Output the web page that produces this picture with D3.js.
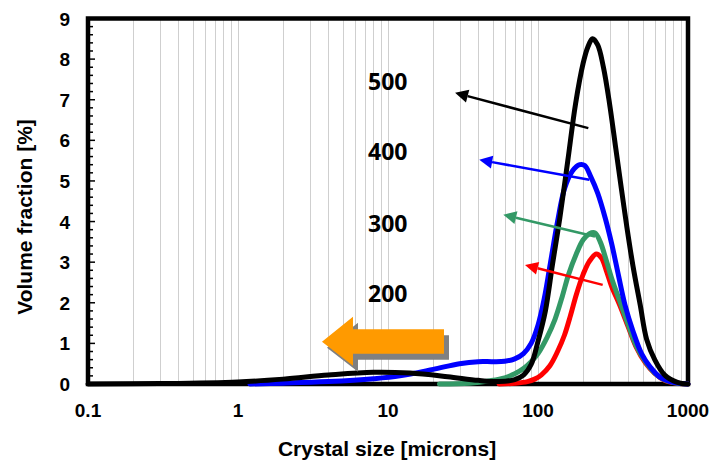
<!DOCTYPE html>
<html>
<head>
<meta charset="utf-8">
<script src="https://cdn.jsdelivr.net/npm/d3@7"></script>
<style>
  html, body { margin: 0; padding: 0; background: #fff; }
  svg { display: block; }
</style>
</head>
<body>
<svg id="chart" width="721" height="470"></svg>
<script>
// ---------------- data ----------------
const xTickValues = [0.1, 1, 10, 100, 1000];
const xTickLabels = ["0.1", "1", "10", "100", "1000"];
const yTickValues = [0, 1, 2, 3, 4, 5, 6, 7, 8, 9];

const seriesNames = ["200", "300", "400", "500"];
const seriesColors = ["#ff0000", "#339966", "#0000ff", "#000000"];

const series200 = [[55,0],[70,0.02],[85,0.06],[95,0.12],[105,0.22],[120,0.45],[135,0.8],[150,1.2],[165,1.7],[180,2.2],[200,2.7],[220,3.02],[245,3.2],[265,3.1],[285,2.8],[310,2.4],[350,1.95],[400,1.4],[450,0.92],[520,0.52],[600,0.26],[700,0.09],[850,0.02],[1000,0]];
const series300 = [[22,0],[35,0.02],[48,0.08],[60,0.15],[70,0.25],[80,0.38],[90,0.55],[100,0.75],[115,1.15],[130,1.6],[145,2.15],[160,2.7],[180,3.2],[200,3.55],[220,3.7],[240,3.72],[260,3.5],[285,3.05],[310,2.6],[350,2.05],[400,1.45],[450,0.95],[520,0.55],[600,0.27],[700,0.1],[850,0.02],[1000,0]];
const series400 = [[1.2,0],[2,0.02],[4,0.06],[8,0.13],[12,0.2],[20,0.36],[30,0.5],[40,0.55],[50,0.55],[60,0.56],[70,0.62],[80,0.75],[90,1.0],[100,1.45],[110,2.1],[120,2.9],[135,4.0],[150,4.8],[170,5.25],[190,5.4],[205,5.38],[225,5.1],[250,4.7],[280,4.1],[310,3.45],[345,2.65],[380,1.95],[430,1.3],[490,0.75],[560,0.42],[650,0.17],[800,0.04],[1000,0]];
const series500 = [[0.1,0],[0.3,0.01],[1,0.05],[2,0.12],[4,0.22],[8,0.29],[14,0.27],[25,0.18],[40,0.09],[55,0.06],[70,0.11],[80,0.22],[90,0.48],[100,1.05],[112,1.8],[125,2.95],[140,4.1],[158,5.5],[178,6.9],[200,7.9],[215,8.3],[231,8.5],[250,8.35],[273,7.8],[300,6.9],[330,5.8],[360,4.8],[390,3.9],[430,2.9],[480,1.95],[530,1.1],[600,0.6],[700,0.22],[850,0.04],[1000,0]];
const seriesData = [series200, series300, series400, series500];

// annotation arrows (data coordinates): tail and tip
const arrowTail = [[269.9,2.44],[239.9,3.63],[219.8,5.03],[216.5,6.30]];
const arrowTip  = [[81.9,2.93],[58.7,4.17],[40.6,5.52],[28.0,7.17]];
const labelPos  = [[7.36,2.03],[7.36,3.755],[7.36,5.505],[7.36,7.23]];

// ---------------- layout ----------------
const svg = d3.select("#chart");
const L = 88, R = 688, T = 18.5, B = 384;

const x = d3.scaleLog().domain([0.1, 1000]).range([L, R]);
const y = d3.scaleLinear().domain([0, 9]).range([B, T]);

// vertical grid lines at every minor log tick
const gridVals = [];
for (let d = 0.1; d < 1000; d *= 10) {
  for (let k = 1; k <= 10; k++) {
    const v = +(d * k).toPrecision(3);
    if (v > 0.1 && v < 1000) gridVals.push(v);
  }
}
svg.append("g").selectAll("line").data(Array.from(new Set(gridVals))).join("line")
  .attr("x1", d => Math.round(x(d)) + 0.5).attr("x2", d => Math.round(x(d)) + 0.5)
  .attr("y1", T).attr("y2", B)
  .attr("stroke", "#cfcfcf").attr("stroke-width", 1);

// y axis minor ticks (inside)
const yMinor = d3.range(0, 9.001, 0.2);
svg.append("g").selectAll("line").data(yMinor).join("line")
  .attr("x1", L).attr("x2", d => L + (Math.abs(d - Math.round(d)) < 1e-6 ? 7 : 5))
  .attr("y1", d => y(d)).attr("y2", d => y(d))
  .attr("stroke", "#000").attr("stroke-width", 1.5);

// frame
svg.append("rect")
  .attr("x", L).attr("y", T).attr("width", R - L).attr("height", B - T)
  .attr("fill", "none").attr("stroke", "#000").attr("stroke-width", 4.5);

// tick labels
svg.append("g").selectAll("text").data(yTickValues).join("text")
  .attr("x", 70).attr("y", d => y(d) + 7)
  .attr("text-anchor", "end")
  .attr("font-family", "Liberation Sans, Arial, sans-serif")
  .attr("font-weight", "bold").attr("font-size", 19)
  .text(d => d);

svg.append("g").selectAll("text").data(xTickValues).join("text")
  .attr("x", d => x(d)).attr("y", 417)
  .attr("text-anchor", "middle")
  .attr("font-family", "Liberation Sans, Arial, sans-serif")
  .attr("font-weight", "bold").attr("font-size", 19)
  .text((d, i) => xTickLabels[i]);

// axis titles
svg.append("text")
  .attr("x", 387).attr("y", 456)
  .attr("text-anchor", "middle")
  .attr("font-family", "Liberation Sans, Arial, sans-serif")
  .attr("font-weight", "bold").attr("font-size", 21)
  .text("Crystal size [microns]");

svg.append("text")
  .attr("transform", "translate(32,217) rotate(-90)")
  .attr("text-anchor", "middle")
  .attr("font-family", "Liberation Sans, Arial, sans-serif")
  .attr("font-weight", "bold").attr("font-size", 21)
  .text("Volume fraction [%]");

// curves
const line = d3.line()
  .x(d => x(d[0])).y(d => y(d[1]))
  .curve(d3.curveCatmullRom.alpha(0.5));

svg.append("g").selectAll("path").data(seriesData).join("path")
  .attr("d", d => line(d))
  .attr("fill", "none")
  .attr("stroke", (d, i) => seriesColors[i])
  .attr("stroke-width", 5)
  .attr("stroke-linecap", "round")
  .attr("stroke-linejoin", "round");

// annotation arrows
const ann = svg.append("g");
seriesNames.forEach((name, i) => {
  const x1 = x(arrowTail[i][0]), y1 = y(arrowTail[i][1]);
  const x2 = x(arrowTip[i][0]), y2 = y(arrowTip[i][1]);
  const ang = Math.atan2(y2 - y1, x2 - x1);
  const hl = 13, hw = 6.5;
  const bx = x2 - hl * Math.cos(ang), by = y2 - hl * Math.sin(ang);
  ann.append("line")
    .attr("x1", x1).attr("y1", y1).attr("x2", bx).attr("y2", by)
    .attr("stroke", seriesColors[i]).attr("stroke-width", 2.5);
  const p = [
    [x2, y2],
    [bx + hw * Math.sin(ang), by - hw * Math.cos(ang)],
    [bx - hw * Math.sin(ang), by + hw * Math.cos(ang)]
  ];
  ann.append("polygon")
    .attr("points", p.map(q => q.join(",")).join(" "))
    .attr("fill", seriesColors[i]);
  ann.append("text")
    .attr("x", x(labelPos[i][0])).attr("y", y(labelPos[i][1]))
    .attr("font-family", "Open Sans, sans-serif")
    .attr("font-weight", 700).attr("font-size", 23)
    .attr("fill", "#000")
    .text(name);
});

// big orange block arrow with shadow
const tipX = x(3.63), tipY = y(1.04);
function blockArrow(dx, dy) {
  const pts = [
    [tipX, tipY],
    [tipX + 31, tipY - 25],
    [tipX + 31, tipY - 12.5],
    [tipX + 122, tipY - 12.5],
    [tipX + 122, tipY + 12],
    [tipX + 31, tipY + 12],
    [tipX + 31, tipY + 24]
  ];
  return pts.map(q => (q[0] + dx) + "," + (q[1] + dy)).join(" ");
}
svg.append("polygon").attr("points", blockArrow(5, 6)).attr("fill", "#808080");
svg.append("polygon").attr("points", blockArrow(0, 0)).attr("fill", "#ff9a00");
</script>
</body>
</html>
